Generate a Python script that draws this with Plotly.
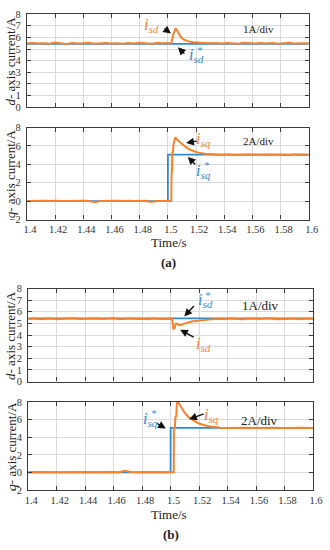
import plotly.graph_objects as go

# ---------------- data ----------------
x_ticks = [1.4, 1.42, 1.44, 1.46, 1.48, 1.5, 1.52, 1.54, 1.56, 1.58, 1.6]
x_ticklabels = ["1.4", "1.42", "1.44", "1.46", "1.48", "1.5", "1.52", "1.54", "1.56", "1.58", "1.6"]
d_ticks = [0, 1, 2, 3, 4, 5, 6, 7, 8]
q_ticks = [-2, 0, 2, 4, 6, 8]

t_pre = [1.400, 1.404, 1.408, 1.412, 1.416, 1.420, 1.424, 1.428, 1.432, 1.436, 1.440, 1.444,
         1.448, 1.452, 1.456, 1.460, 1.464, 1.468, 1.472, 1.476, 1.480, 1.484, 1.488, 1.492,
         1.496, 1.500]
t_post = [1.534, 1.538, 1.542, 1.546, 1.550, 1.554, 1.558, 1.562, 1.566, 1.570, 1.574, 1.578,
          1.582, 1.586, 1.590, 1.594, 1.598, 1.600]

# (a) d-axis
t_sd_a_tr = [1.5020, 1.5026, 1.5040, 1.5055, 1.5070, 1.5090, 1.5110, 1.5140, 1.5180, 1.5220, 1.5260, 1.5300]
sd_a_pre = [5.48, 5.52, 5.47, 5.50, 5.45, 5.55, 5.49, 5.44, 5.51, 5.47, 5.50, 5.53,
            5.46, 5.49, 5.52, 5.47, 5.50, 5.45, 5.51, 5.48, 5.54, 5.49, 5.46, 5.52, 5.48, 5.50]
sd_a_tr = [5.49, 5.60, 6.30, 6.78, 6.50, 6.05, 5.82, 5.68, 5.58, 5.53, 5.52, 5.49]
sd_a_post = [5.51, 5.47, 5.52, 5.49, 5.46, 5.53, 5.50, 5.47, 5.51, 5.48, 5.52, 5.45,
             5.50, 5.53, 5.47, 5.50, 5.48, 5.50]
sd_ref_a = [5.44, 5.44]

# (a) q-axis
t_sq_a_tr = [1.5024, 1.5026, 1.5029, 1.5031, 1.5036, 1.5040, 1.5053, 1.5070, 1.5100, 1.5130,
             1.5170, 1.5210, 1.5260, 1.5300]
sq_a_pre = [0.03, 0.05, 0.00, 0.04, 0.02, 0.06, 0.01, 0.03, 0.05, 0.00, 0.04, 0.02,
            -0.10, 0.03, 0.05, 0.01, 0.04, 0.02, 0.06, 0.01, 0.03, 0.05, -0.09, 0.03, 0.02, 0.03]
sq_a_tr = [0.02, 3.00, 3.20, 5.20, 5.40, 6.20, 6.94, 6.60, 6.20, 5.85, 5.50, 5.30, 5.15, 5.10]
sq_a_post = [5.07, 5.04, 5.08, 5.05, 5.02, 5.07, 5.04, 5.08, 5.03, 5.06, 5.04, 5.08,
             5.05, 5.02, 5.06, 5.04, 5.07, 5.05]
t_ref_q = [1.4, 1.5, 1.5, 1.6]
sq_ref_a = [0.0, 0.0, 5.05, 5.05]

# (b) d-axis
t_sd_b_tr = [1.5010, 1.5015, 1.5020, 1.5028, 1.5034, 1.5045, 1.5060, 1.5079, 1.5100, 1.5155,
             1.5200, 1.5256, 1.5300]
sd_b_pre = [5.38, 5.42, 5.36, 5.40, 5.43, 5.37, 5.41, 5.39, 5.44, 5.38, 5.40, 5.36,
            5.42, 5.39, 5.41, 5.45, 5.37, 5.40, 5.43, 5.38, 5.41, 5.36, 5.42, 5.39, 5.40, 5.40]
sd_b_tr = [5.40, 4.90, 4.55, 4.60, 4.95, 4.98, 4.85, 4.88, 5.00, 5.18, 5.25, 5.32, 5.37]
sd_b_post = [5.40, 5.37, 5.42, 5.39, 5.36, 5.41, 5.43, 5.38, 5.40, 5.44, 5.37, 5.41,
             5.39, 5.42, 5.36, 5.40, 5.38, 5.40]
sd_ref_b = [5.43, 5.43]

# (b) q-axis
t_sq_b_tr = [1.5022, 1.5023, 1.5030, 1.5034, 1.5040, 1.5045, 1.5050, 1.5060, 1.5079, 1.5100,
             1.5123, 1.5160, 1.5190, 1.5230, 1.5280, 1.5340]
sq_b_pre = [0.03, 0.05, 0.10, 0.04, 0.02, 0.05, 0.01, 0.03, 0.05, 0.02, 0.04, 0.02,
            0.03, 0.05, 0.01, 0.04, 0.02, 0.20, 0.06, 0.02, 0.03, 0.05, 0.02, 0.04, 0.03, 0.03]
sq_b_tr = [0.03, 5.00, 5.10, 6.30, 6.40, 8.10, 8.10, 7.80, 7.26, 6.75, 6.33, 5.90, 5.60, 5.38, 5.20, 5.10]
sq_b_post = [5.07, 5.04, 5.06, 5.03, 5.05, 5.08, 5.04, 5.06, 5.02, 5.05, 5.07, 5.04,
             5.06, 5.03, 5.05, 5.07, 5.04, 5.05]
sq_ref_b = [0.0, 0.0, 5.05, 5.05]

# ---------------- styling ----------------
W, H = 330, 550
ORANGE = "#F7812B"
BLUE = "#2F8AD0"
SERIF = "Times New Roman, Liberation Serif, DejaVu Serif, serif"


def px_x(p):
    return p / W


def px_y(p):
    return 1 - p / H


fig = go.Figure()

panels = [
    dict(xd=(24, 318.3), yd=(9.3, 104.3), yr=[0, 8], yt=d_ticks,
         ot=t_pre + t_sd_a_tr + t_post, ov=sd_a_pre + sd_a_tr + sd_a_post,
         bt=[1.4, 1.6], bv=sd_ref_a),
    dict(xd=(24, 318.3), yd=(125, 219), yr=[-2, 8], yt=q_ticks,
         ot=t_pre + t_sq_a_tr + t_post, ov=sq_a_pre + sq_a_tr + sq_a_post,
         bt=t_ref_q, bv=sq_ref_a),
    dict(xd=(25.3, 322.7), yd=(289.3, 384.3), yr=[0, 8], yt=d_ticks,
         ot=t_pre + t_sd_b_tr + t_post, ov=sd_b_pre + sd_b_tr + sd_b_post,
         bt=[1.4, 1.6], bv=sd_ref_b),
    dict(xd=(25.3, 322.7), yd=(405, 495), yr=[-2, 8], yt=q_ticks,
         ot=t_pre + t_sq_b_tr + t_post, ov=sq_b_pre + sq_b_tr + sq_b_post,
         bt=t_ref_q, bv=sq_ref_b),
]

layout_axes = {}
for i, p in enumerate(panels, start=1):
    xa = "x" if i == 1 else f"x{i}"
    ya = "y" if i == 1 else f"y{i}"
    fig.add_trace(go.Scatter(x=p["bt"], y=p["bv"], mode="lines",
                             line=dict(color=BLUE, width=1.8), xaxis=xa, yaxis=ya,
                             showlegend=False, hoverinfo="skip"))
    fig.add_trace(go.Scatter(x=p["ot"], y=p["ov"], mode="lines",
                             line=dict(color=ORANGE, width=2), xaxis=xa, yaxis=ya,
                             showlegend=False, hoverinfo="skip"))
    show_x_labels = i in (2, 4)
    common = dict(showline=True, linecolor="#3c3c3c", linewidth=1.3, mirror="allticks",
                  ticks="inside", ticklen=4, tickcolor="#3c3c3c", tickwidth=1,
                  showgrid=True, gridcolor="#dadada", gridwidth=1, zeroline=False,
                  tickfont=dict(family=SERIF, size=10.5, color="#333333"))
    xkey = "xaxis" if i == 1 else f"xaxis{i}"
    ykey = "yaxis" if i == 1 else f"yaxis{i}"
    layout_axes[xkey] = dict(common, domain=[px_x(p["xd"][0]), px_x(p["xd"][1])],
                             range=[1.4, 1.6], anchor=ya, tickvals=x_ticks,
                             ticktext=x_ticklabels, showticklabels=show_x_labels,
                             ticklabelshift=3, ticklabelstandoff=0)
    layout_axes[ykey] = dict(common, domain=[px_y(p["yd"][1]), px_y(p["yd"][0])],
                             range=p["yr"], anchor=xa, tickvals=p["yt"],
                             ticklabelstandoff=3)

fig.update_layout(**layout_axes)

ann = []


def text(px, py, s, size=12, color="#222222", angle=0):
    ann.append(dict(x=px_x(px), y=px_y(py), xref="paper", yref="paper", text=s,
                    showarrow=False, xanchor="center", yanchor="middle", textangle=angle,
                    font=dict(family=SERIF, size=size, color=color)))


def label(px, py, sub, color, star=False):
    text(px, py, f"<i>i<sub>{sub}</sub></i>", size=16, color=color)
    if star:
        text(px + 3, py - 6, "<i>*</i>", size=10, color=color)


def arrow(xa, ya, x, y, ax, ay):
    ann.append(dict(x=x, y=y, xref=xa, yref=ya, ax=ax, ay=ay, axref="pixel", ayref="pixel",
                    text="", showarrow=True, arrowhead=2, arrowsize=1.1, arrowwidth=1.4,
                    arrowcolor="#111111", standoff=0, startstandoff=0))


# y titles
text(7, 57, "<i>d</i>- axis current/A", size=13, angle=-90)
text(7, 172, "<i>q</i>- axis current/A", size=13, angle=-90)
text(7, 337, "<i>d</i>- axis current/A", size=13, angle=-90)
text(7, 450, "<i>q</i>- axis current/A", size=13, angle=-90)
# x titles and captions
text(172, 242, "Time/s", size=13)
text(172, 520, "Time/s", size=13)
text(172, 263, "<b>(a)</b>", size=13)
text(174, 540, "<b>(b)</b>", size=13)

# panel (a) d
label(154, 21, "sd", ORANGE)
arrow("x", "y", 1.5022, 6.34, -8, -6)
label(201, 52, "sd", BLUE, star=True)
arrow("x", "y", 1.5071, 5.15, 8, 8)
text(266, 24, "1A/div", size=11)

# panel (a) q
label(208, 137, "sq", ORANGE)
arrow("x2", "y2", 1.5130, 6.33, 12, -2)
label(208, 170, "sq", BLUE, star=True)
arrow("x2", "y2", 1.5141, 4.81, 9, 9)
text(266, 139, "2A/div", size=11)

# panel (b) d
label(210, 302, "sd", BLUE, star=True)
arrow("x3", "y3", 1.5096, 5.60, 11, -12)
label(208, 346, "sd", ORANGE)
arrow("x3", "y3", 1.5067, 4.45, 15, 8)
text(268, 307, "1A/div", size=13)

# panel (b) q
label(217, 419, "sq", ORANGE)
arrow("x4", "y4", 1.5130, 6.03, 16, -6)
label(153, 423, "sq", BLUE, star=True)
arrow("x4", "y4", 1.4966, 4.97, -10, -6)
text(267, 424, "2A/div", size=13)

fig.update_layout(width=W, height=H, margin=dict(l=0, r=0, t=0, b=0),
                  paper_bgcolor="white", plot_bgcolor="white", annotations=ann,
                  showlegend=False, hovermode=False)

fig.write_html("out.html", config={"displayModeBar": False},
               post_script="document.body.style.margin='0';document.body.style.overflow='hidden';")
